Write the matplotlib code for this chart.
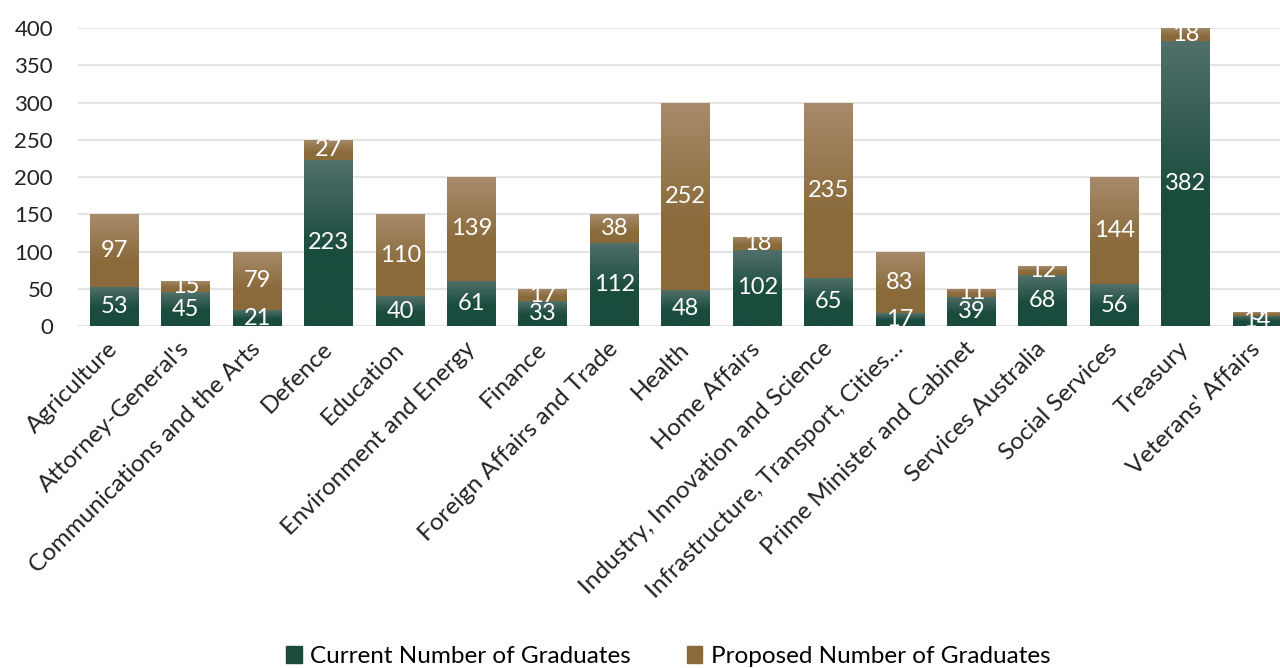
import numpy as np
import matplotlib
matplotlib.use("Agg")
import matplotlib.pyplot as plt
from matplotlib.patches import Patch
from matplotlib.colors import LinearSegmentedColormap

plt.rcParams['font.family'] = ['Lato', 'DejaVu Sans']

categories = ["Agriculture", "Attorney-General's", "Communications and the Arts", "Defence",
              "Education", "Environment and Energy", "Finance", "Foreign Affairs and Trade",
              "Health", "Home Affairs", "Industry, Innovation and Science",
              "Infrastructure, Transport, Cities…", "Prime Minister and Cabinet",
              "Services Australia", "Social Services", "Treasury", "Veterans' Affairs"]
current = [53, 45, 21, 223, 40, 61, 33, 112, 48, 102, 65, 17, 39, 68, 56, 382, 14]
proposed = [97, 15, 79, 27, 110, 139, 17, 38, 252, 18, 235, 83, 11, 12, 144, 18, 5]
series_names = ["Current Number of Graduates", "Proposed Number of Graduates"]
yticks = [0, 50, 100, 150, 200, 250, 300, 350, 400]

green_dark, green_light = "#1a4c3e", "#52706a"
brown_dark, brown_light = "#8a6a3a", "#a78b6b"

fig = plt.figure(figsize=(12.8, 6.68), dpi=100)
ax = fig.add_axes([0.061, 0.512, 0.939, 0.446])

x = np.arange(len(categories))
w = 0.686
b1 = ax.bar(x, current, w, color=green_dark, zorder=2)
b2 = ax.bar(x, proposed, w, bottom=current, color=brown_dark, zorder=2)

cm_g = LinearSegmentedColormap.from_list("g", [(0, green_dark), (0.45, green_dark), (1, green_light)])
cm_b = LinearSegmentedColormap.from_list("b", [(0, brown_dark), (0.35, brown_dark), (1, brown_light)])
grad = np.linspace(0, 1, 256).reshape(-1, 1)
for bars, cmap in ((b1, cm_g), (b2, cm_b)):
    for r in bars:
        x0, y0 = r.get_x(), r.get_y()
        ww, hh = r.get_width(), r.get_height()
        im = ax.imshow(grad, extent=[x0, x0 + ww, y0, y0 + hh], origin='lower',
                       cmap=cmap, aspect='auto', zorder=2.5)
        im.set_clip_path(r)

for i in x:
    ax.text(i, current[i] / 2, str(current[i]), ha='center', va='center',
            color='white', fontsize=17, zorder=4)
    ax.text(i, current[i] + proposed[i] / 2, str(proposed[i]), ha='center', va='center',
            color='white', fontsize=17, zorder=4)

ax.set_xlim(-0.51, 16.32)
ax.set_ylim(0, 400)
ax.set_yticks(yticks)
ax.yaxis.grid(True, color='#e4e4e4', linewidth=1.6, zorder=0)
ax.set_axisbelow(True)
for s in ax.spines.values():
    s.set_visible(False)
ax.tick_params(axis='both', length=0, labelsize=16, colors='#222222')
ax.tick_params(axis='y', pad=18)
ax.set_xticks(x)
ax.set_xticklabels(categories, rotation=45, ha='right', va='center',
                   rotation_mode='anchor', fontsize=17.5)
ax.tick_params(axis='x', pad=14)

handles = [Patch(color=green_dark), Patch(color=brown_dark)]
fig.legend(handles, series_names, loc='center', bbox_to_anchor=(0.522, 0.017), ncol=2,
           frameon=False, fontsize=17.5, handlelength=0.65, handleheight=0.65,
           handletextpad=0.35, columnspacing=2.3)

fig.savefig("out.png", dpi=100)
